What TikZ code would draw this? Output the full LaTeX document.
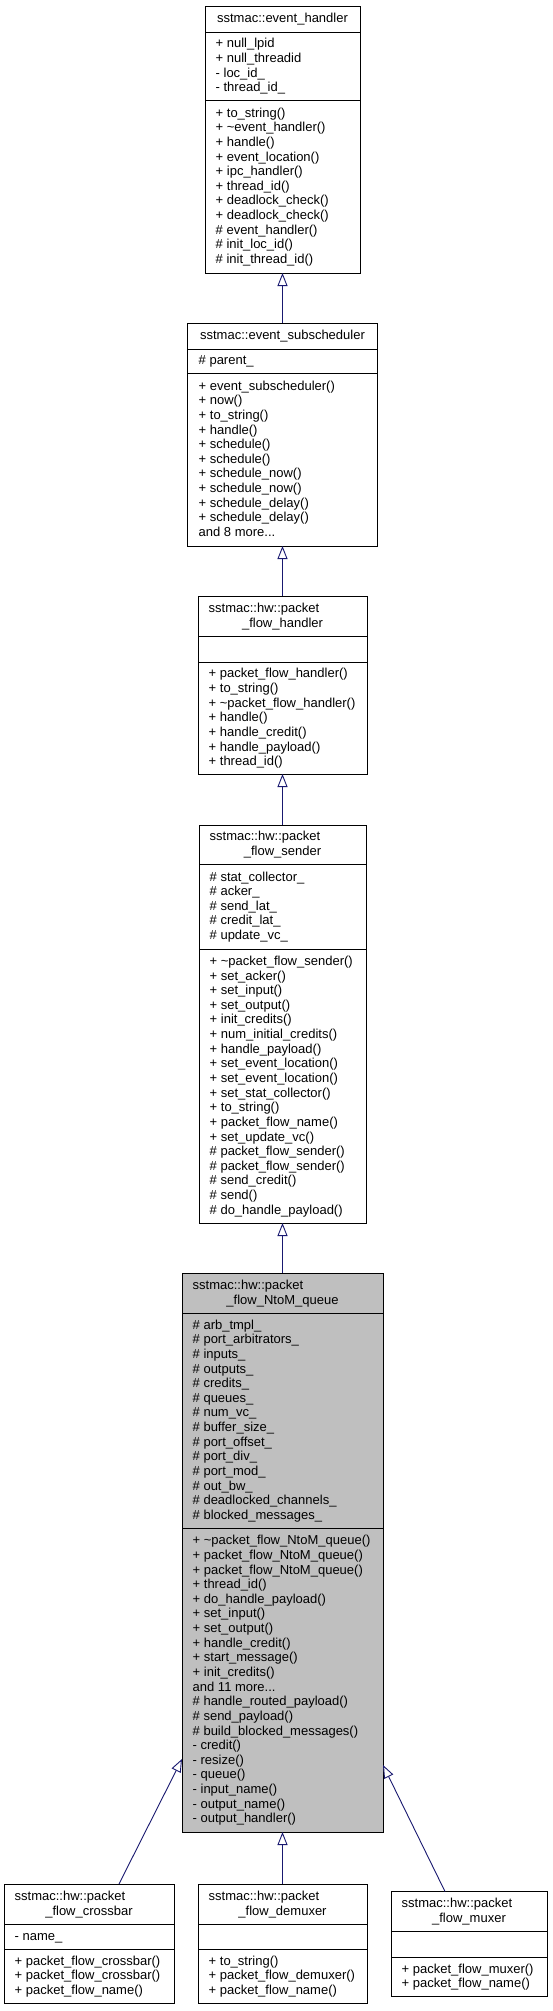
\documentclass[tikz,border=0pt]{standalone}
\usepackage{fontspec}
\setmainfont{Liberation Sans}
\usetikzlibrary{arrows.meta}
\definecolor{edgeblue}{RGB}{25,25,112}
\definecolor{focusgray}{RGB}{191,191,191}
\newcommand\tdots{...}
\newcommand\classlines[4]{\foreach \t [count=\i] in {#4} {\node[ln] (#1\i) at (#2,{#3+(\i-1)*14.64}) {\t};}}
\begin{document}
\begin{tikzpicture}[x=1pt,y=-1pt,
  box/.style={draw=black,line width=1pt,inner sep=0pt,outer sep=0pt,fill=white},
  sepline/.style={draw=black,line width=1pt},
  ln/.style={anchor=base west,inner sep=0pt,font=\fontsize{13}{14.64}\selectfont},
  ttl/.style={anchor=base,inner sep=0pt,font=\fontsize{13}{14.64}\selectfont},
  inh/.style={draw=edgeblue,line width=0.9pt,-{Triangle[length=13pt,width=10pt,fill=white]}}]
\fill[white] (0,0) rectangle (552,2011);
\useasboundingbox (0,0) rectangle (552,2011);

% ---------- event_handler
\node[box,minimum width=155pt,minimum height=267pt] (eh) at (282.5,139.5) {};
\draw[sepline] (eh.west |- 0,32) -- (eh.east |- 0,32);
\draw[sepline] (eh.west |- 0,100) -- (eh.east |- 0,100);
\node[ttl] (ehT) at (282.5,22.8) {sstmac::event\_handler};
\classlines{ehA}{215.5}{47.84}{+ null\_lpid, + null\_threadid, - loc\_id\_, - thread\_id\_}
\classlines{ehM}{215.5}{117.1}{+ to\_string(), + \textasciitilde event\_handler(), + handle(), + event\_location(), + ipc\_handler(), + thread\_id(), + deadlock\_check(), + deadlock\_check(), \# event\_handler(), \# init\_loc\_id(), \# init\_thread\_id()}

% ---------- event_subscheduler
\node[box,minimum width=190pt,minimum height=223pt] (es) at (282.5,434.5) {};
\draw[sepline] (es.west |- 0,349) -- (es.east |- 0,349);
\draw[sepline] (es.west |- 0,373) -- (es.east |- 0,373);
\node[ttl] (esT) at (282.5,339.8) {sstmac::event\_subscheduler};
\classlines{esA}{198.5}{364.8}{\# parent\_}
\classlines{esM}{198.5}{390.1}{+ event\_subscheduler(), + now(), + to\_string(), + handle(), + schedule(), + schedule(), + schedule\_now(), + schedule\_now(), + schedule\_delay(), + schedule\_delay(), and 8 more\tdots}

% ---------- packet_flow_handler
\node[box,minimum width=169pt,minimum height=178pt] (pfh) at (282.5,685) {};
\draw[sepline] (pfh.west |- 0,636) -- (pfh.east |- 0,636);
\draw[sepline] (pfh.west |- 0,662) -- (pfh.east |- 0,662);
\node[ln] (pfhT1) at (208.5,612.48) {sstmac::hw::packet};
\node[ttl] (pfhT2) at (282.5,627.12) {\_flow\_handler};
\classlines{pfhM}{208.5}{677.88}{+ packet\_flow\_handler(), + to\_string(), + \textasciitilde packet\_flow\_handler(), + handle(), + handle\_credit(), + handle\_payload(), + thread\_id()}

% ---------- packet_flow_sender
\node[box,minimum width=167pt,minimum height=398pt] (pfs) at (282.5,1024) {};
\draw[sepline] (pfs.west |- 0,864) -- (pfs.east |- 0,864);
\draw[sepline] (pfs.west |- 0,949) -- (pfs.east |- 0,949);
\node[ln] (pfsT1) at (209.5,840.98) {sstmac::hw::packet};
\node[ttl] (pfsT2) at (282.5,855.62) {\_flow\_sender};
\classlines{pfsA}{209.5}{881.02}{\# stat\_collector\_, \# acker\_, \# send\_lat\_, \# credit\_lat\_, \# update\_vc\_}
\classlines{pfsM}{209.5}{965.36}{+ \textasciitilde packet\_flow\_sender(), + set\_acker(), + set\_input(), + set\_output(), + init\_credits(), + num\_initial\_credits(), + handle\_payload(), + set\_event\_location(), + set\_event\_location(), + set\_stat\_collector(), + to\_string(), + packet\_flow\_name(), + set\_update\_vc(), \# packet\_flow\_sender(), \# packet\_flow\_sender(), \# send\_credit(), \# send(), \# do\_handle\_payload()}

% ---------- packet_flow_NtoM_queue
\node[box,fill=focusgray,minimum width=201pt,minimum height=559pt] (ntom) at (282.5,1552.5) {};
\draw[sepline] (ntom.west |- 0,1313) -- (ntom.east |- 0,1313);
\draw[sepline] (ntom.west |- 0,1528) -- (ntom.east |- 0,1528);
\node[ln] (ntomT1) at (192.5,1289.48) {sstmac::hw::packet};
\node[ttl] (ntomT2) at (282.5,1304.12) {\_flow\_NtoM\_queue};
\classlines{ntomA}{192.5}{1329.14}{\# arb\_tmpl\_, \# port\_arbitrators\_, \# inputs\_, \# outputs\_, \# credits\_, \# queues\_, \# num\_vc\_, \# buffer\_size\_, \# port\_offset\_, \# port\_div\_, \# port\_mod\_, \# out\_bw\_, \# deadlocked\_channels\_, \# blocked\_messages\_}
\classlines{ntomM}{192.5}{1544.72}{+ \textasciitilde packet\_flow\_NtoM\_queue(), + packet\_flow\_NtoM\_queue(), + packet\_flow\_NtoM\_queue(), + thread\_id(), + do\_handle\_payload(), + set\_input(), + set\_output(), + handle\_credit(), + start\_message(), + init\_credits(), and 11 more\tdots, \# handle\_routed\_payload(), \# send\_payload(), \# build\_blocked\_messages(), - credit(), - resize(), - queue(), - input\_name(), - output\_name(), - output\_handler()}

% ---------- packet_flow_crossbar
\node[box,minimum width=170pt,minimum height=119pt] (cross) at (89,1943.5) {};
\draw[sepline] (cross.west |- 0,1924) -- (cross.east |- 0,1924);
\draw[sepline] (cross.west |- 0,1949) -- (cross.east |- 0,1949);
\node[ln] (crossT1) at (14.5,1900.48) {sstmac::hw::packet};
\node[ttl] (crossT2) at (89,1915.12) {\_flow\_crossbar};
\classlines{crossA}{14.5}{1940.3}{- name\_}
\classlines{crossM}{14.5}{1965.16}{+ packet\_flow\_crossbar(), + packet\_flow\_crossbar(), + packet\_flow\_name()}

% ---------- packet_flow_demuxer
\node[box,minimum width=169pt,minimum height=119pt] (demux) at (282.5,1943.5) {};
\draw[sepline] (demux.west |- 0,1924) -- (demux.east |- 0,1924);
\draw[sepline] (demux.west |- 0,1949) -- (demux.east |- 0,1949);
\node[ln] (demuxT1) at (208.5,1900.48) {sstmac::hw::packet};
\node[ttl] (demuxT2) at (282.5,1915.12) {\_flow\_demuxer};
\classlines{demuxM}{208.5}{1965.16}{+ to\_string(), + packet\_flow\_demuxer(), + packet\_flow\_name()}

% ---------- packet_flow_muxer
\node[box,minimum width=156pt,minimum height=105pt] (mux) at (469,1944) {};
\draw[sepline] (mux.west |- 0,1931) -- (mux.east |- 0,1931);
\draw[sepline] (mux.west |- 0,1957) -- (mux.east |- 0,1957);
\node[ln] (muxT1) at (401.5,1907.73) {sstmac::hw::packet};
\node[ttl] (muxT2) at (469,1922.37) {\_flow\_muxer};
\classlines{muxM}{401.5}{1973.23}{+ packet\_flow\_muxer(), + packet\_flow\_name()}

% ---------- inheritance connectors
\draw[inh] (es.north) -- (eh.south);
\draw[inh] (pfh.north) -- (es.south);
\draw[inh] (pfs.north) -- (pfh.south);
\draw[inh] (ntom.north) -- (pfs.south);
\draw[inh] (demux.north) -- (ntom.south);
\draw[inh] ([xshift=30pt]cross.north) -- ([yshift=73pt]ntom.south west);
\draw[inh] ([xshift=-24pt]mux.north) -- ([yshift=67pt]ntom.south east);
\end{tikzpicture}
\end{document}
